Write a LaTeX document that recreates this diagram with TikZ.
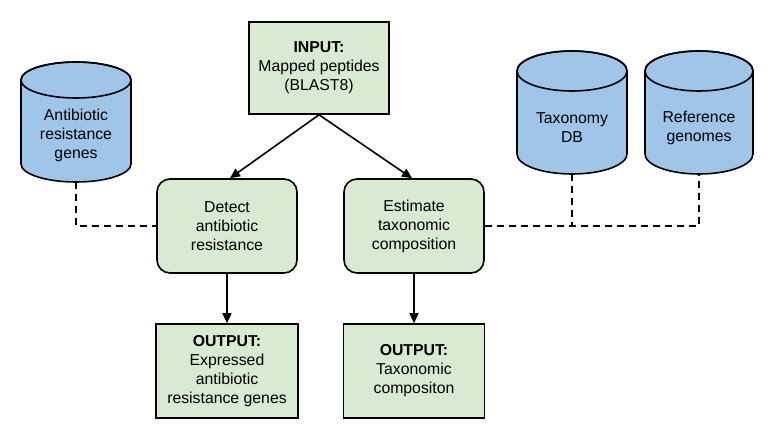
\documentclass[tikz,border=0pt]{standalone}
\usepackage{fontspec}
\setmainfont{Liberation Sans}
\usetikzlibrary{arrows.meta}
\definecolor{boxgreen}{HTML}{D9EAD3}
\definecolor{dbblue}{HTML}{9FC5E8}
\tikzset{
  every node/.style={font=\fontsize{15.8pt}{19pt}\selectfont, align=center},
  iobox/.style={draw=black, fill=boxgreen, line width=1.6pt, inner sep=0pt},
  procbox/.style={draw=black, fill=boxgreen, line width=1.6pt, rounded corners=13pt, inner sep=0pt},
  dbbody/.style={draw=black, fill=dbblue, line width=1.6pt},
  flow/.style={line width=1.6pt, -{Triangle[length=10pt,width=9pt]}},
  link/.style={line width=1.5pt, dash pattern=on 7pt off 5pt}
}
\begin{document}
\begin{tikzpicture}[x=1pt,y=1pt]
\useasboundingbox (0,0) rectangle (784,445);

% boxes
\node[iobox, minimum width=140pt, minimum height=92pt] (input) at (319,377)
  {\textbf{INPUT:}\\Mapped peptides\\(BLAST8)};
\node[procbox, minimum width=140pt, minimum height=94pt] (detect) at (227,219)
  {Detect\\antibiotic\\resistance};
\node[procbox, minimum width=140pt, minimum height=94pt] (estimate) at (414,219)
  {Estimate\\taxonomic\\composition};
\node[iobox, minimum width=142pt, minimum height=94pt] (out1) at (227,74)
  {\textbf{OUTPUT:}\\Expressed\\antibiotic\\resistance genes};
\node[iobox, minimum width=141pt, minimum height=94pt] (out2) at (414,74)
  {\textbf{OUTPUT:}\\Taxonomic\\compositon};

% cylinders
\filldraw[dbbody] (21,365) -- (21,281)
  arc[start angle=180, end angle=360, x radius=55pt, y radius=18pt]
  -- (131,365) arc[start angle=0, end angle=180, x radius=55pt, y radius=18pt] -- cycle;
\draw[line width=1.6pt] (76,365) ellipse[x radius=55pt, y radius=18pt];
\node (argdb) at (76,310) {Antibiotic\\resistance\\genes};
\coordinate (argbot) at (76,263);

\filldraw[dbbody] (517,374) -- (517,291)
  arc[start angle=180, end angle=360, x radius=55pt, y radius=20pt]
  -- (627,374) arc[start angle=0, end angle=180, x radius=55pt, y radius=20pt] -- cycle;
\draw[line width=1.6pt] (572,374) ellipse[x radius=55pt, y radius=20pt];
\node (taxdb) at (572,317) {Taxonomy\\DB};
\coordinate (taxbot) at (572,271);

\filldraw[dbbody] (645,374) -- (645,291)
  arc[start angle=180, end angle=360, x radius=54pt, y radius=20pt]
  -- (753,374) arc[start angle=0, end angle=180, x radius=54pt, y radius=20pt] -- cycle;
\draw[line width=1.6pt] (699,374) ellipse[x radius=54pt, y radius=20pt];
\node (refdb) at (699,317) {Reference\\genomes};
\coordinate (refbot) at (699,271);

% arrows
\draw[flow] (input.south) -- ([xshift=3pt]detect.north);
\draw[flow] (input.south) -- ([xshift=-2pt]estimate.north);
\draw[flow] (detect.south) -- (out1.north);
\draw[flow] (estimate.south) -- (out2.north);

% dashed links
\draw[link] (argbot) |- (detect.west);
\draw[link] (estimate.east) -| (refbot);
\draw[link] (taxbot) -- (taxbot |- estimate.east);
\end{tikzpicture}
\end{document}
